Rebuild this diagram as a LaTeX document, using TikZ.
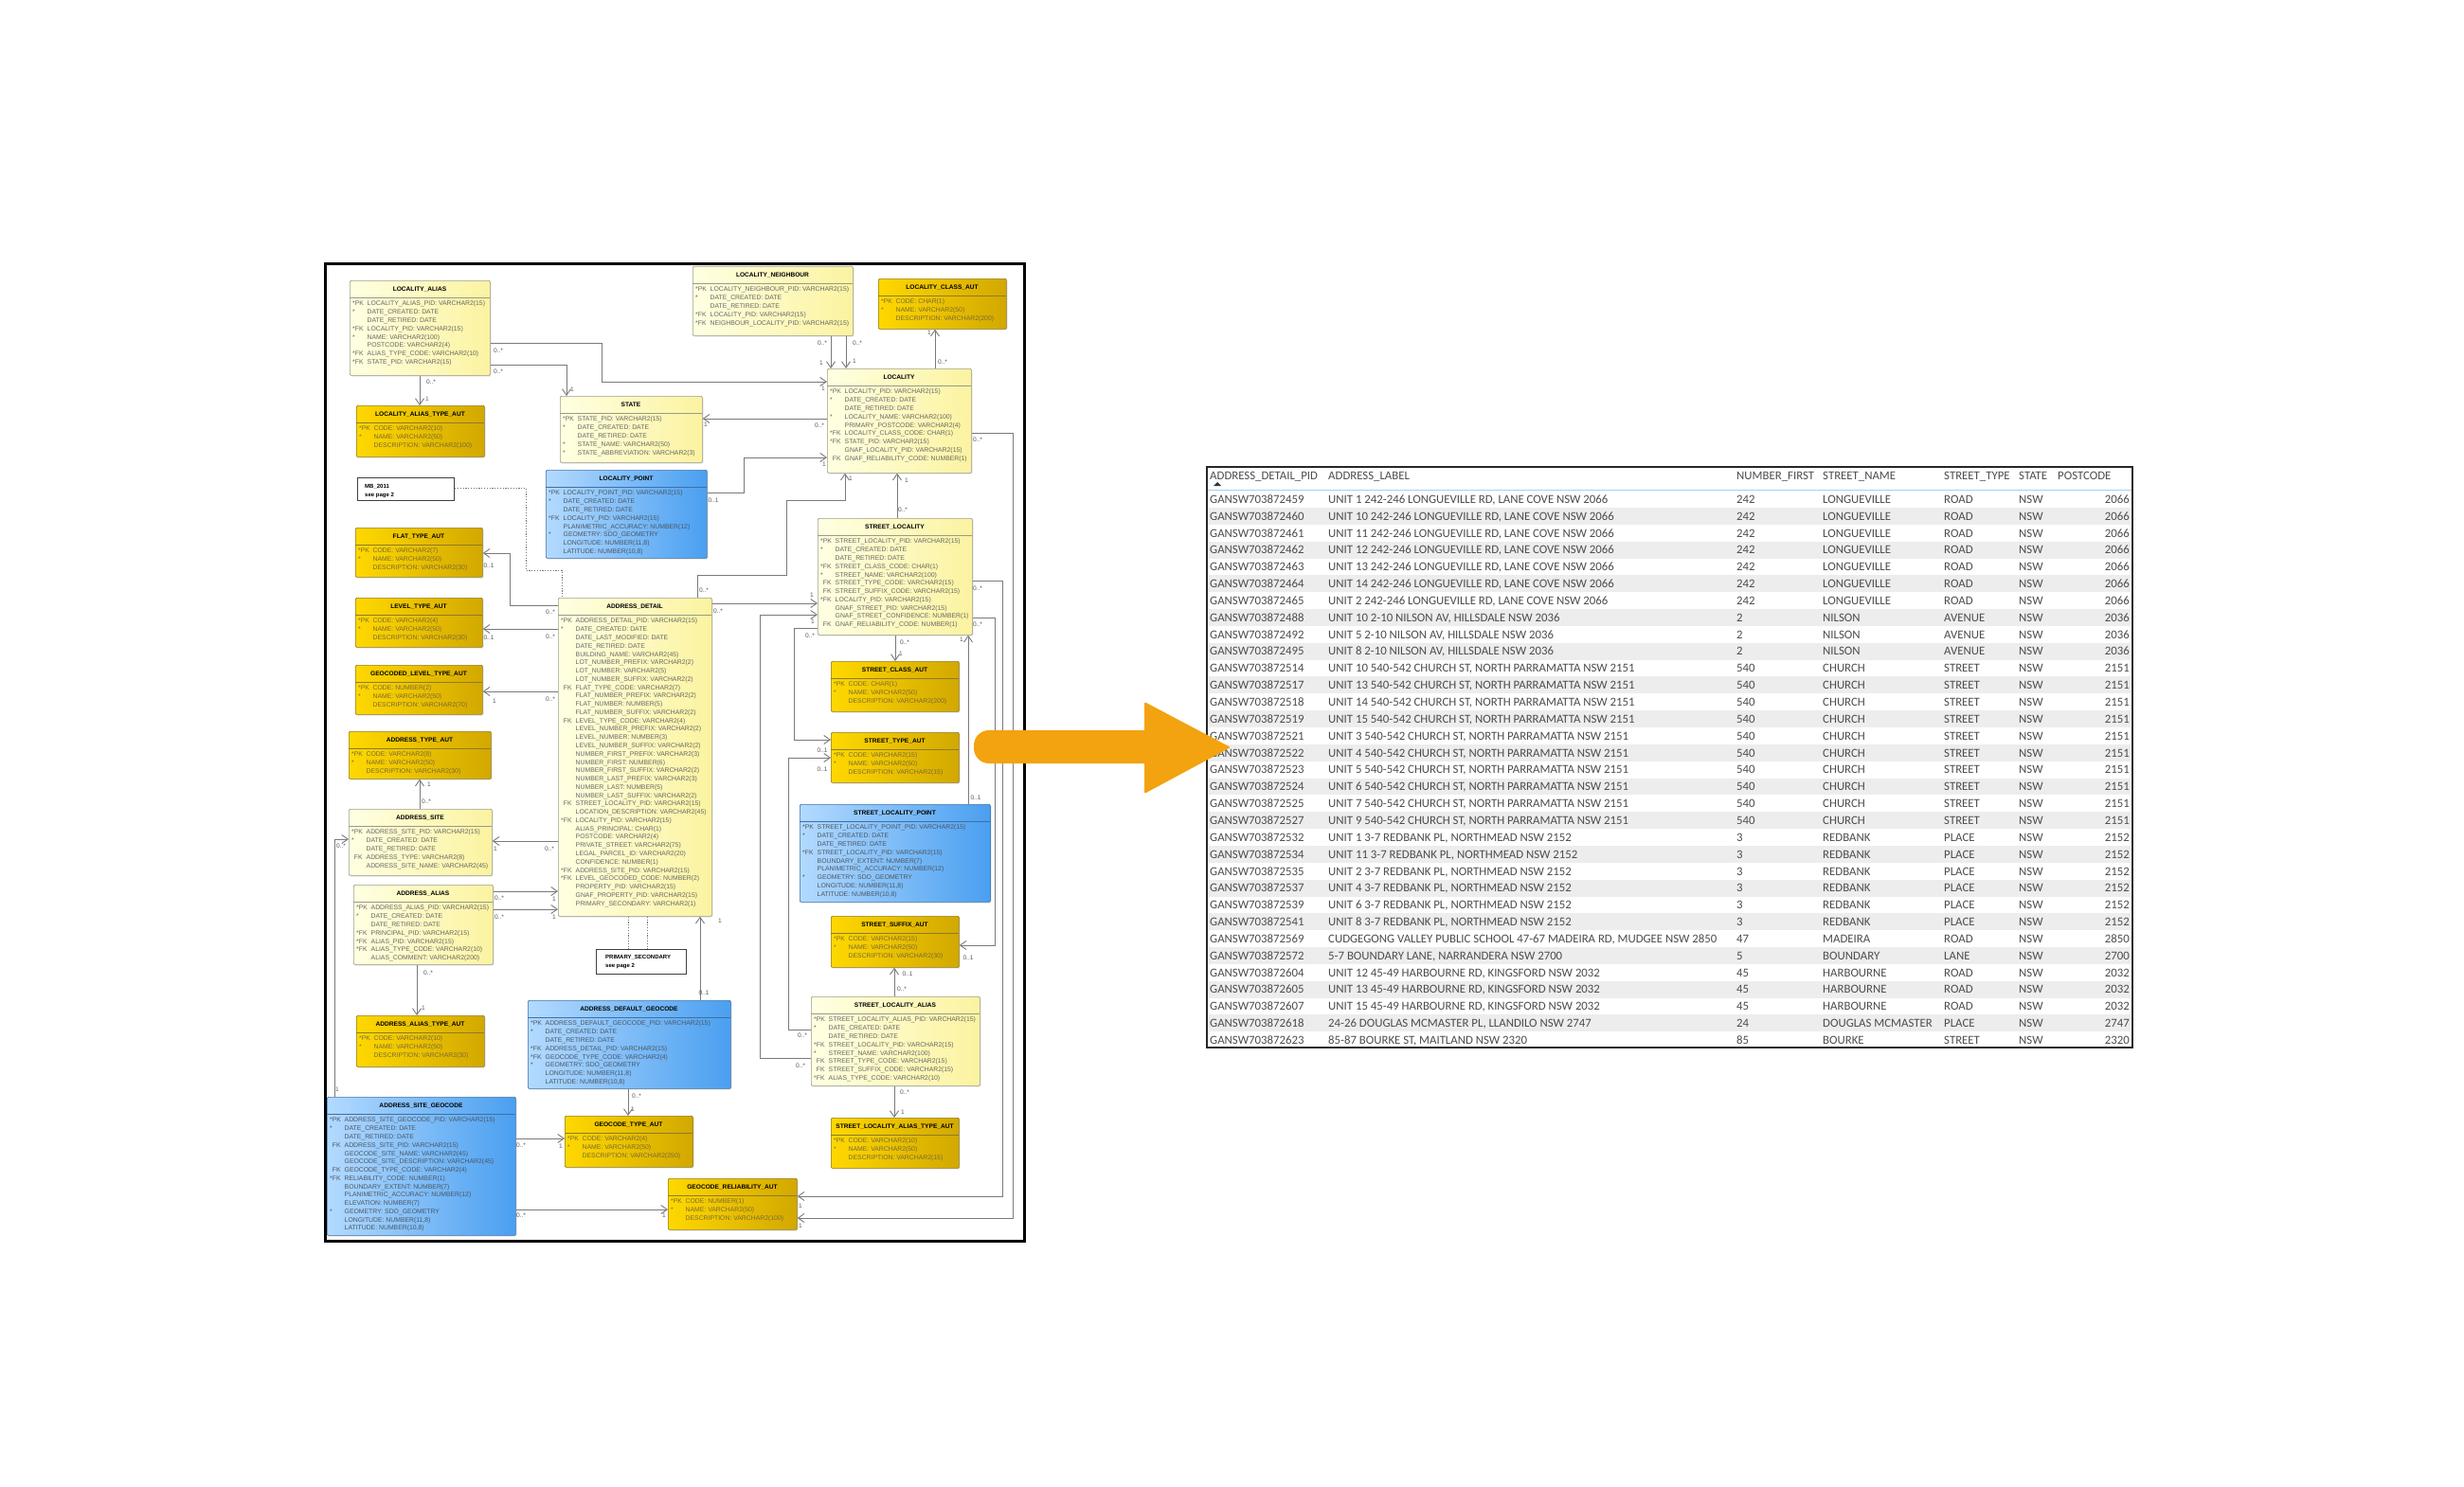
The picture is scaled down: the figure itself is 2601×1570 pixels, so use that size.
\documentclass[tikz,border=0pt]{standalone}
\usepackage{fontspec}
\setmainfont{Liberation Sans}
\newfontfamily\tabfont{Carlito}
\usetikzlibrary{arrows.meta,shadows}
\definecolor{yl1}{HTML}{FFFFE2}
\definecolor{yl2}{HTML}{FBF3A0}
\definecolor{yeb}{HTML}{9A9A86}
\definecolor{ytx}{HTML}{666666}
\definecolor{gd1}{HTML}{FFD800}
\definecolor{gd2}{HTML}{D2A800}
\definecolor{gdb}{HTML}{8E7A26}
\definecolor{gtx}{HTML}{7A6A35}
\definecolor{bl1}{HTML}{B3DAFF}
\definecolor{bl2}{HTML}{4A9FF0}
\definecolor{blb}{HTML}{3D70A8}
\definecolor{btx}{HTML}{4B5563}
\definecolor{lnc}{HTML}{7A7A7A}
\definecolor{arrowc}{HTML}{F2A30F}
\definecolor{tgray}{HTML}{EDEDED}
\definecolor{tbtx}{HTML}{4D4D4D}
\definecolor{hdrblue}{HTML}{A6CFF0}
\tikzset{
 ybox/.style={draw=yeb, line width=0.7pt, left color=yl1, right color=yl2, rounded corners=1.2pt, inner sep=0, drop shadow={opacity=0.2,shadow xshift=1.2pt,shadow yshift=-1.2pt}},
 yboxline/.style={draw=yeb, line width=0.7pt},
 yboxtxt/.style={text=ytx},
 gbox/.style={draw=gdb, line width=0.7pt, left color=gd1, right color=gd2, rounded corners=1.2pt, inner sep=0, drop shadow={opacity=0.2,shadow xshift=1.2pt,shadow yshift=-1.2pt}},
 gboxline/.style={draw=gdb, line width=0.7pt},
 gboxtxt/.style={text=gtx},
 bbox/.style={draw=blb, line width=0.7pt, left color=bl1, right color=bl2, rounded corners=1.2pt, inner sep=0, drop shadow={opacity=0.2,shadow xshift=1.2pt,shadow yshift=-1.2pt}},
 bboxline/.style={draw=blb, line width=0.7pt},
 bboxtxt/.style={text=btx},
 rowt/.style={anchor=base west, inner sep=0, font=\fontsize{6.85}{8}\selectfont},
 ttl/.style={anchor=base, inner sep=0, font=\bfseries\fontsize{6.6}{7}\selectfont, text=black},
 lab/.style={inner sep=0, font=\fontsize{6.6}{7}\selectfont, text=black!65},
 conn/.style={draw=lnc, line width=0.9pt, -{Straight Barb[length=6.5pt,width=9pt]}},
 dotc/.style={draw=black!55, line width=0.9pt, dash pattern=on 1.2pt off 1.6pt},
 notebox/.style={draw=black!75, line width=1.1pt, fill=white, inner sep=0},
 notetxt/.style={anchor=base west, inner sep=0, font=\bfseries\fontsize{6}{7}\selectfont},
 tt/.style={anchor=base west, inner sep=0, font=\tabfont\fontsize{12.8}{14}\selectfont, text=tbtx},
}
\newcommand\fk{\phantom{*}FK}
\newcounter{lbc}
\newcommand\cardlab[2]{\stepcounter{lbc}\node[lab] (lb\arabic{lbc}) at (#1) {#2};}
\newcommand\erent[8]{%
 \node[#2, anchor=north west, minimum width={#5-#3}, minimum height={#6-#4}] (#1) at (#3,#4) {};
 \draw[#2line] (#3,#4+18) -- (#5,#4+18);
 \node[ttl] (#1t) at ({(#3+#5)/2},#4+11.8) {#7};
 \foreach \m/\f [count=\i from 0] in {#8} {
  \node[rowt,#2txt] (#1m\i) at (#3+3,#4+26.95+\i*8.77) {\m};
  \node[rowt,#2txt] (#1f\i) at (#3+18.5,#4+26.95+\i*8.77) {\f};
 }
}
\newcommand\tabrow[8]{%
 \pgfmathsetmacro\ty{531.3+#1*17.85}%
 \ifodd#1\relax \fill[tgray] (1276,{\ty-13.2}) rectangle (2249,{\ty+4.65});\fi
 \node[tt] (r#1a) at (1277,\ty) {#2};
 \node[tt] (r#1b) at (1402,\ty) {#3};
 \node[tt] (r#1c) at (1833,\ty) {#4};
 \node[tt] (r#1d) at (1924,\ty) {#5};
 \node[tt] (r#1e) at (2052,\ty) {#6};
 \node[tt] (r#1f) at (2131,\ty) {#7};
 \node[tt,anchor=base east] (r#1g) at (2248,\ty) {#8};
}
\begin{document}
\catcode`\_=12
\begin{tikzpicture}[x=1pt,y=-1pt]
\useasboundingbox (0,0) rectangle (2601,1570);
\fill[white] (0,0) rectangle (2601,1570);

% ---------------- ERD entities ----------------
\erent{LA}{ybox}{369}{296}{517}{396}{LOCALITY_ALIAS}{*PK/LOCALITY_ALIAS_PID: VARCHAR2(15), */DATE_CREATED: DATE, /DATE_RETIRED: DATE, *FK/LOCALITY_PID: VARCHAR2(15), */NAME: VARCHAR2(100), /POSTCODE: VARCHAR2(4), *FK/ALIAS_TYPE_CODE: VARCHAR2(10), *FK/STATE_PID: VARCHAR2(15)}
\erent{LATA}{gbox}{376}{428}{511}{482}{LOCALITY_ALIAS_TYPE_AUT}{*PK/CODE: VARCHAR2(10), */NAME: VARCHAR2(50), /DESCRIPTION: VARCHAR2(100)}
\erent{ST}{ybox}{591}{418}{741}{488}{STATE}{*PK/STATE_PID: VARCHAR2(15), */DATE_CREATED: DATE, /DATE_RETIRED: DATE, */STATE_NAME: VARCHAR2(50), */STATE_ABBREVIATION: VARCHAR2(3)}
\erent{LN}{ybox}{731}{281}{900}{354}{LOCALITY_NEIGHBOUR}{*PK/LOCALITY_NEIGHBOUR_PID: VARCHAR2(15), */DATE_CREATED: DATE, /DATE_RETIRED: DATE, *FK/LOCALITY_PID: VARCHAR2(15), *FK/NEIGHBOUR_LOCALITY_PID: VARCHAR2(15)}
\erent{LCA}{gbox}{927}{294}{1062}{347}{LOCALITY_CLASS_AUT}{*PK/CODE: CHAR(1), */NAME: VARCHAR2(50), /DESCRIPTION: VARCHAR2(200)}
\erent{LOC}{ybox}{873}{389}{1025}{499}{LOCALITY}{*PK/LOCALITY_PID: VARCHAR2(15), */DATE_CREATED: DATE, /DATE_RETIRED: DATE, */LOCALITY_NAME: VARCHAR2(100), /PRIMARY_POSTCODE: VARCHAR2(4), *FK/LOCALITY_CLASS_CODE: CHAR(1), *FK/STATE_PID: VARCHAR2(15), /GNAF_LOCALITY_PID: VARCHAR2(15), \fk/GNAF_RELIABILITY_CODE: NUMBER(1)}
\erent{LP}{bbox}{576}{496}{746}{589}{LOCALITY_POINT}{*PK/LOCALITY_POINT_PID: VARCHAR2(15), */DATE_CREATED: DATE, /DATE_RETIRED: DATE, *FK/LOCALITY_PID: VARCHAR2(15), /PLANIMETRIC_ACCURACY: NUMBER(12), */GEOMETRY: SDO_GEOMETRY, /{LONGITUDE: NUMBER(11,8)}, /{LATITUDE: NUMBER(10,8)}}
\erent{FTA}{gbox}{375}{557}{509}{609}{FLAT_TYPE_AUT}{*PK/CODE: VARCHAR2(7), */NAME: VARCHAR2(50), /DESCRIPTION: VARCHAR2(30)}
\erent{LTA}{gbox}{375}{631}{509}{683}{LEVEL_TYPE_AUT}{*PK/CODE: VARCHAR2(4), */NAME: VARCHAR2(50), /DESCRIPTION: VARCHAR2(30)}
\erent{GLTA}{gbox}{375}{702}{509}{754}{GEOCODED_LEVEL_TYPE_AUT}{*PK/CODE: NUMBER(2), */NAME: VARCHAR2(50), /DESCRIPTION: VARCHAR2(70)}
\erent{ATA}{gbox}{368}{772}{518}{822}{ADDRESS_TYPE_AUT}{*PK/CODE: VARCHAR2(8), */NAME: VARCHAR2(50), /DESCRIPTION: VARCHAR2(30)}
\erent{AS}{ybox}{368}{854}{519}{924}{ADDRESS_SITE}{*PK/ADDRESS_SITE_PID: VARCHAR2(15), */DATE_CREATED: DATE, /DATE_RETIRED: DATE, \fk/ADDRESS_TYPE: VARCHAR2(8), /ADDRESS_SITE_NAME: VARCHAR2(45)}
\erent{AA}{ybox}{373}{934}{520}{1018}{ADDRESS_ALIAS}{*PK/ADDRESS_ALIAS_PID: VARCHAR2(15), */DATE_CREATED: DATE, /DATE_RETIRED: DATE, *FK/PRINCIPAL_PID: VARCHAR2(15), *FK/ALIAS_PID: VARCHAR2(15), *FK/ALIAS_TYPE_CODE: VARCHAR2(10), /ALIAS_COMMENT: VARCHAR2(200)}
\erent{AATA}{gbox}{376}{1072}{511}{1126}{ADDRESS_ALIAS_TYPE_AUT}{*PK/CODE: VARCHAR2(10), */NAME: VARCHAR2(50), /DESCRIPTION: VARCHAR2(30)}
\erent{ASG}{bbox}{345}{1158}{544}{1304}{ADDRESS_SITE_GEOCODE}{*PK/ADDRESS_SITE_GEOCODE_PID: VARCHAR2(15), */DATE_CREATED: DATE, /DATE_RETIRED: DATE, \fk/ADDRESS_SITE_PID: VARCHAR2(15), /GEOCODE_SITE_NAME: VARCHAR2(45), /GEOCODE_SITE_DESCRIPTION: VARCHAR2(45), \fk/GEOCODE_TYPE_CODE: VARCHAR2(4), *FK/RELIABILITY_CODE: NUMBER(1), /BOUNDARY_EXTENT: NUMBER(7), /PLANIMETRIC_ACCURACY: NUMBER(12), /ELEVATION: NUMBER(7), */GEOMETRY: SDO_GEOMETRY, /{LONGITUDE: NUMBER(11,8)}, /{LATITUDE: NUMBER(10,8)}}
\erent{AD}{ybox}{589}{631}{751}{967}{ADDRESS_DETAIL}{*PK/ADDRESS_DETAIL_PID: VARCHAR2(15), */DATE_CREATED: DATE, /DATE_LAST_MODIFIED: DATE, /DATE_RETIRED: DATE, /BUILDING_NAME: VARCHAR2(45), /LOT_NUMBER_PREFIX: VARCHAR2(2), /LOT_NUMBER: VARCHAR2(5), /LOT_NUMBER_SUFFIX: VARCHAR2(2), \fk/FLAT_TYPE_CODE: VARCHAR2(7), /FLAT_NUMBER_PREFIX: VARCHAR2(2), /FLAT_NUMBER: NUMBER(5), /FLAT_NUMBER_SUFFIX: VARCHAR2(2), \fk/LEVEL_TYPE_CODE: VARCHAR2(4), /LEVEL_NUMBER_PREFIX: VARCHAR2(2), /LEVEL_NUMBER: NUMBER(3), /LEVEL_NUMBER_SUFFIX: VARCHAR2(2), /NUMBER_FIRST_PREFIX: VARCHAR2(3), /NUMBER_FIRST: NUMBER(6), /NUMBER_FIRST_SUFFIX: VARCHAR2(2), /NUMBER_LAST_PREFIX: VARCHAR2(3), /NUMBER_LAST: NUMBER(5), /NUMBER_LAST_SUFFIX: VARCHAR2(2), \fk/STREET_LOCALITY_PID: VARCHAR2(15), /LOCATION_DESCRIPTION: VARCHAR2(45), *FK/LOCALITY_PID: VARCHAR2(15), /ALIAS_PRINCIPAL: CHAR(1), /POSTCODE: VARCHAR2(4), /PRIVATE_STREET: VARCHAR2(75), /LEGAL_PARCEL_ID: VARCHAR2(20), /CONFIDENCE: NUMBER(1), *FK/ADDRESS_SITE_PID: VARCHAR2(15), *FK/LEVEL_GEOCODED_CODE: NUMBER(2), /PROPERTY_PID: VARCHAR2(15), /GNAF_PROPERTY_PID: VARCHAR2(15), /PRIMARY_SECONDARY: VARCHAR2(1)}
\erent{ADG}{bbox}{557}{1056}{771}{1149}{ADDRESS_DEFAULT_GEOCODE}{*PK/ADDRESS_DEFAULT_GEOCODE_PID: VARCHAR2(15), */DATE_CREATED: DATE, /DATE_RETIRED: DATE, *FK/ADDRESS_DETAIL_PID: VARCHAR2(15), *FK/GEOCODE_TYPE_CODE: VARCHAR2(4), */GEOMETRY: SDO_GEOMETRY, /{LONGITUDE: NUMBER(11,8)}, /{LATITUDE: NUMBER(10,8)}}
\erent{GTA}{gbox}{596}{1178}{731}{1232}{GEOCODE_TYPE_AUT}{*PK/CODE: VARCHAR2(4), */NAME: VARCHAR2(50), /DESCRIPTION: VARCHAR2(250)}
\erent{GRA}{gbox}{705}{1244}{841}{1298}{GEOCODE_RELIABILITY_AUT}{*PK/CODE: NUMBER(1), */NAME: VARCHAR2(50), /DESCRIPTION: VARCHAR2(100)}
\erent{SL}{ybox}{863}{547}{1026}{670}{STREET_LOCALITY}{*PK/STREET_LOCALITY_PID: VARCHAR2(15), */DATE_CREATED: DATE, /DATE_RETIRED: DATE, *FK/STREET_CLASS_CODE: CHAR(1), */STREET_NAME: VARCHAR2(100), \fk/STREET_TYPE_CODE: VARCHAR2(15), \fk/STREET_SUFFIX_CODE: VARCHAR2(15), *FK/LOCALITY_PID: VARCHAR2(15), /GNAF_STREET_PID: VARCHAR2(15), /GNAF_STREET_CONFIDENCE: NUMBER(1), \fk/GNAF_RELIABILITY_CODE: NUMBER(1)}
\erent{SCA}{gbox}{877}{698}{1012}{751}{STREET_CLASS_AUT}{*PK/CODE: CHAR(1), */NAME: VARCHAR2(50), /DESCRIPTION: VARCHAR2(200)}
\erent{STA}{gbox}{877}{773}{1012}{826}{STREET_TYPE_AUT}{*PK/CODE: VARCHAR2(15), */NAME: VARCHAR2(50), /DESCRIPTION: VARCHAR2(15)}
\erent{SLP}{bbox}{844}{849}{1045}{952}{STREET_LOCALITY_POINT}{*PK/STREET_LOCALITY_POINT_PID: VARCHAR2(15), */DATE_CREATED: DATE, /DATE_RETIRED: DATE, *FK/STREET_LOCALITY_PID: VARCHAR2(15), /BOUNDARY_EXTENT: NUMBER(7), /PLANIMETRIC_ACCURACY: NUMBER(12), */GEOMETRY: SDO_GEOMETRY, /{LONGITUDE: NUMBER(11,8)}, /{LATITUDE: NUMBER(10,8)}}
\erent{SSA}{gbox}{877}{967}{1012}{1021}{STREET_SUFFIX_AUT}{*PK/CODE: VARCHAR2(15), */NAME: VARCHAR2(50), /DESCRIPTION: VARCHAR2(30)}
\erent{SLA}{ybox}{856}{1052}{1034}{1146}{STREET_LOCALITY_ALIAS}{*PK/STREET_LOCALITY_ALIAS_PID: VARCHAR2(15), */DATE_CREATED: DATE, /DATE_RETIRED: DATE, *FK/STREET_LOCALITY_PID: VARCHAR2(15), */STREET_NAME: VARCHAR2(100), \fk/STREET_TYPE_CODE: VARCHAR2(15), \fk/STREET_SUFFIX_CODE: VARCHAR2(15), *FK/ALIAS_TYPE_CODE: VARCHAR2(10)}
\erent{SLATA}{gbox}{877}{1180}{1012}{1233}{STREET_LOCALITY_ALIAS_TYPE_AUT}{*PK/CODE: VARCHAR2(10), */NAME: VARCHAR2(50), /DESCRIPTION: VARCHAR2(15)}

% notes
\node[notebox, anchor=north west, minimum width=102, minimum height=24] (MB) at (377,504) {};
\node[notetxt] (MBa) at (385,515.5) {MB_2011};
\node[notetxt] (MBb) at (385,524.5) {see page 2};
\node[notebox, anchor=north west, minimum width=95, minimum height=26] (PS) at (629,1002) {};
\node[notetxt] (PSa) at (639,1012) {PRIMARY_SECONDARY};
\node[notetxt] (PSb) at (639,1021) {see page 2};
\draw[dotc] (MB.east |- 0,515) -- (555,515) -- (555,602) -- (593,602) -- (AD.north -| 593,0);
\draw[dotc] (AD.south -| 663,0) -- (PS.north -| 663,0);
\draw[dotc] (AD.south -| 683,0) -- (PS.north -| 683,0);

% ---------------- connectors ----------------
\draw[conn] (LA.east |- 0,362) -- (635,362) -- (635,403) -- (LOC.west |- 0,403);
\draw[conn] (LA.east |- 0,385) -| (ST.north -| 598,0);
\draw[conn] (LA.south -| 443,0) -- (LATA.north -| 443,0);
\draw[conn] (LN.south -| 877,0) -- (LOC.north -| 877,0);
\draw[conn] (LN.south -| 893,0) -- (LOC.north -| 893,0);
\draw[conn] (LOC.north -| 987,0) -- (LCA.south -| 987,0);
\draw[conn] (LOC.west |- 0,442) -- (ST.east |- 0,442);
\draw[conn] (LP.east |- 0,520) -- (785,520) -- (785,483) -- (LOC.west |- 0,483);
\draw[conn] (LOC.east |- 0,457) -- (1069,457) -- (1069,1286) -- (GRA.east |- 0,1286);
\draw[conn] (SL.east |- 0,613) -- (1058,613) -- (1058,1263) -- (GRA.east |- 0,1263);
\draw[conn] (SL.north -| 947,0) -- (LOC.south -| 947,0);
\draw[conn] (AD.north -| 736,0) -- (736,607) -- (830,607) -- (830,528) -- (892,528) -- (LOC.south -| 892,0);
\draw[conn] (AD.east |- 0,637) -- (SL.west |- 0,637);
\draw[conn] (SLA.west |- 0,1117) -- (802,1117) -- (802,649) -- (SL.west |- 0,649);
\draw[conn] (SL.west |- 0,663) -- (838,663) -- (838,781) -- (STA.west |- 0,781);
\draw[conn] (SLA.west |- 0,1087) -- (832,1087) -- (832,800) -- (STA.west |- 0,800);
\draw[conn] (SL.south -| 945,0) -- (SCA.north -| 945,0);
\draw[conn] (SLP.north -| 1022,0) -- (SL.south -| 1022,0);
\draw[conn] (SL.east |- 0,652) -- (1050,652) -- (1050,998) -- (SSA.east |- 0,998);
\draw[conn] (SLA.north -| 944,0) -- (SSA.south -| 944,0);
\draw[conn] (SLA.south -| 944,0) -- (SLATA.north -| 944,0);
\draw[conn] (AD.west |- 0,639) -- (538,639) -- (538,584) -- (FTA.east |- 0,584);
\draw[conn] (AD.west |- 0,664) -- (LTA.east |- 0,664);
\draw[conn] (AD.west |- 0,730) -- (GLTA.east |- 0,730);
\draw[conn] (AD.west |- 0,888) -- (AS.east |- 0,888);
\draw[conn] (AS.north -| 443,0) -- (ATA.south -| 443,0);
\draw[conn] (AA.east |- 0,941) -- (AD.west |- 0,941);
\draw[conn] (AA.east |- 0,960) -- (AD.west |- 0,960);
\draw[conn] (AA.south -| 440,0) -- (AATA.north -| 440,0);
\draw[conn] (ASG.north -| 353,0) -- (353,886) -- (AS.west |- 0,886);
\draw[conn] (ADG.north -| 739,0) -- (AD.south -| 739,0);
\draw[conn] (ADG.south -| 663,0) -- (GTA.north -| 663,0);
\draw[conn] (ASG.east |- 0,1202) -- (GTA.west |- 0,1202);
\draw[conn] (ASG.east |- 0,1277) -- (GRA.west |- 0,1277);

% ---------------- cardinality labels ----------------
\cardlab{526,370}{0..*} \cardlab{526,392}{0..*} \cardlab{869,410}{1} \cardlab{604,411}{1}
\cardlab{455,403}{0..*} \cardlab{451,421}{1}
\cardlab{868,362}{0..*} \cardlab{867,383}{1} \cardlab{905,362}{0..*} \cardlab{902,381}{1}
\cardlab{981,351}{1} \cardlab{995,382}{0..*}
\cardlab{745,448}{1} \cardlab{865,449}{0..*}
\cardlab{753,528}{0..1} \cardlab{870,490}{1}
\cardlab{1032,464}{0..*} \cardlab{1032,621}{0..*} \cardlab{1032,659}{0..*}
\cardlab{957,507}{1} \cardlab{953,538}{0..*}
\cardlab{743,623}{0..*} \cardlab{898,505}{1}
\cardlab{758,645}{0..*} \cardlab{857,628}{1}
\cardlab{858,656}{1} \cardlab{845,1125}{0..*}
\cardlab{855,671}{0..*} \cardlab{868,792}{0..1}
\cardlab{847,1093}{0..*} \cardlab{868,812}{0..1}
\cardlab{955,678}{0..*} \cardlab{951,690}{1}
\cardlab{1015,675}{1} \cardlab{1030,842}{0..1}
\cardlab{1022,1011}{0..1}
\cardlab{958,1028}{0..1} \cardlab{952,1044}{0..*}
\cardlab{955,1153}{0..*} \cardlab{953,1174}{1}
\cardlab{845,1273}{1} \cardlab{845,1294}{1}
\cardlab{516,597}{0..1} \cardlab{581,646}{0..*}
\cardlab{516,673}{0..1} \cardlab{581,672}{0..*}
\cardlab{522,740}{1} \cardlab{581,738}{0..*}
\cardlab{523,896}{1} \cardlab{580,896}{0..*}
\cardlab{453,828}{1} \cardlab{450,846}{0..*}
\cardlab{527,948}{0..*} \cardlab{527,968}{0..*} \cardlab{585,949}{1} \cardlab{585,968}{1}
\cardlab{452,1027}{0..*} \cardlab{447,1064}{1}
\cardlab{356,1150}{1} \cardlab{360,893}{0..*}
\cardlab{743,1048}{0..1} \cardlab{760,972}{1}
\cardlab{672,1157}{0..*} \cardlab{668,1171}{1}
\cardlab{550,1209}{0..*} \cardlab{592,1210}{1}
\cardlab{550,1283}{0..*} \cardlab{701,1283}{1}

% ERD frame
\draw[line width=3pt, black] (343,279) rectangle (1081,1310);

% ---------------- table ----------------
\fill[white] (1274,493) rectangle (2251,1106);
\node[tt] (h1) at (1277,506.2) {ADDRESS_DETAIL_PID};
\node[tt] (h2) at (1402,506.2) {ADDRESS_LABEL};
\node[tt] (h3) at (1833,506.2) {NUMBER_FIRST};
\node[tt] (h4) at (1924,506.2) {STREET_NAME};
\node[tt] (h5) at (2052,506.2) {STREET_TYPE};
\node[tt] (h6) at (2131,506.2) {STATE};
\node[tt] (h7) at (2172,506.2) {POSTCODE};
\fill[black!80] (1281,513) -- (1289,513) -- (1285,509) -- cycle;
\draw[hdrblue, line width=1pt] (1275,517) -- (2250,517);
\tabrow{0}{GANSW703872459}{UNIT 1 242-246 LONGUEVILLE RD, LANE COVE NSW 2066}{242}{LONGUEVILLE}{ROAD}{NSW}{2066}
\tabrow{1}{GANSW703872460}{UNIT 10 242-246 LONGUEVILLE RD, LANE COVE NSW 2066}{242}{LONGUEVILLE}{ROAD}{NSW}{2066}
\tabrow{2}{GANSW703872461}{UNIT 11 242-246 LONGUEVILLE RD, LANE COVE NSW 2066}{242}{LONGUEVILLE}{ROAD}{NSW}{2066}
\tabrow{3}{GANSW703872462}{UNIT 12 242-246 LONGUEVILLE RD, LANE COVE NSW 2066}{242}{LONGUEVILLE}{ROAD}{NSW}{2066}
\tabrow{4}{GANSW703872463}{UNIT 13 242-246 LONGUEVILLE RD, LANE COVE NSW 2066}{242}{LONGUEVILLE}{ROAD}{NSW}{2066}
\tabrow{5}{GANSW703872464}{UNIT 14 242-246 LONGUEVILLE RD, LANE COVE NSW 2066}{242}{LONGUEVILLE}{ROAD}{NSW}{2066}
\tabrow{6}{GANSW703872465}{UNIT 2 242-246 LONGUEVILLE RD, LANE COVE NSW 2066}{242}{LONGUEVILLE}{ROAD}{NSW}{2066}
\tabrow{7}{GANSW703872488}{UNIT 10 2-10 NILSON AV, HILLSDALE NSW 2036}{2}{NILSON}{AVENUE}{NSW}{2036}
\tabrow{8}{GANSW703872492}{UNIT 5 2-10 NILSON AV, HILLSDALE NSW 2036}{2}{NILSON}{AVENUE}{NSW}{2036}
\tabrow{9}{GANSW703872495}{UNIT 8 2-10 NILSON AV, HILLSDALE NSW 2036}{2}{NILSON}{AVENUE}{NSW}{2036}
\tabrow{10}{GANSW703872514}{UNIT 10 540-542 CHURCH ST, NORTH PARRAMATTA NSW 2151}{540}{CHURCH}{STREET}{NSW}{2151}
\tabrow{11}{GANSW703872517}{UNIT 13 540-542 CHURCH ST, NORTH PARRAMATTA NSW 2151}{540}{CHURCH}{STREET}{NSW}{2151}
\tabrow{12}{GANSW703872518}{UNIT 14 540-542 CHURCH ST, NORTH PARRAMATTA NSW 2151}{540}{CHURCH}{STREET}{NSW}{2151}
\tabrow{13}{GANSW703872519}{UNIT 15 540-542 CHURCH ST, NORTH PARRAMATTA NSW 2151}{540}{CHURCH}{STREET}{NSW}{2151}
\tabrow{14}{GANSW703872521}{UNIT 3 540-542 CHURCH ST, NORTH PARRAMATTA NSW 2151}{540}{CHURCH}{STREET}{NSW}{2151}
\tabrow{15}{GANSW703872522}{UNIT 4 540-542 CHURCH ST, NORTH PARRAMATTA NSW 2151}{540}{CHURCH}{STREET}{NSW}{2151}
\tabrow{16}{GANSW703872523}{UNIT 5 540-542 CHURCH ST, NORTH PARRAMATTA NSW 2151}{540}{CHURCH}{STREET}{NSW}{2151}
\tabrow{17}{GANSW703872524}{UNIT 6 540-542 CHURCH ST, NORTH PARRAMATTA NSW 2151}{540}{CHURCH}{STREET}{NSW}{2151}
\tabrow{18}{GANSW703872525}{UNIT 7 540-542 CHURCH ST, NORTH PARRAMATTA NSW 2151}{540}{CHURCH}{STREET}{NSW}{2151}
\tabrow{19}{GANSW703872527}{UNIT 9 540-542 CHURCH ST, NORTH PARRAMATTA NSW 2151}{540}{CHURCH}{STREET}{NSW}{2151}
\tabrow{20}{GANSW703872532}{UNIT 1 3-7 REDBANK PL, NORTHMEAD NSW 2152}{3}{REDBANK}{PLACE}{NSW}{2152}
\tabrow{21}{GANSW703872534}{UNIT 11 3-7 REDBANK PL, NORTHMEAD NSW 2152}{3}{REDBANK}{PLACE}{NSW}{2152}
\tabrow{22}{GANSW703872535}{UNIT 2 3-7 REDBANK PL, NORTHMEAD NSW 2152}{3}{REDBANK}{PLACE}{NSW}{2152}
\tabrow{23}{GANSW703872537}{UNIT 4 3-7 REDBANK PL, NORTHMEAD NSW 2152}{3}{REDBANK}{PLACE}{NSW}{2152}
\tabrow{24}{GANSW703872539}{UNIT 6 3-7 REDBANK PL, NORTHMEAD NSW 2152}{3}{REDBANK}{PLACE}{NSW}{2152}
\tabrow{25}{GANSW703872541}{UNIT 8 3-7 REDBANK PL, NORTHMEAD NSW 2152}{3}{REDBANK}{PLACE}{NSW}{2152}
\tabrow{26}{GANSW703872569}{CUDGEGONG VALLEY PUBLIC SCHOOL 47-67 MADEIRA RD, MUDGEE NSW 2850}{47}{MADEIRA}{ROAD}{NSW}{2850}
\tabrow{27}{GANSW703872572}{5-7 BOUNDARY LANE, NARRANDERA NSW 2700}{5}{BOUNDARY}{LANE}{NSW}{2700}
\tabrow{28}{GANSW703872604}{UNIT 12 45-49 HARBOURNE RD, KINGSFORD NSW 2032}{45}{HARBOURNE}{ROAD}{NSW}{2032}
\tabrow{29}{GANSW703872605}{UNIT 13 45-49 HARBOURNE RD, KINGSFORD NSW 2032}{45}{HARBOURNE}{ROAD}{NSW}{2032}
\tabrow{30}{GANSW703872607}{UNIT 15 45-49 HARBOURNE RD, KINGSFORD NSW 2032}{45}{HARBOURNE}{ROAD}{NSW}{2032}
\tabrow{31}{GANSW703872618}{24-26 DOUGLAS MCMASTER PL, LLANDILO NSW 2747}{24}{DOUGLAS MCMASTER}{PLACE}{NSW}{2747}
\tabrow{32}{GANSW703872623}{85-87 BOURKE ST, MAITLAND NSW 2320}{85}{BOURKE}{STREET}{NSW}{2320}
\draw[line width=2.5pt, black!85] (1274,493) rectangle (2251,1106);

% ---------------- big arrow ----------------
\fill[arrowc, rounded corners=16pt] (1028,771) rectangle (1232,806);
\fill[arrowc, rounded corners=2pt] (1208,741) -- (1299,789) -- (1208,838) -- cycle;
\end{tikzpicture}
\end{document}
